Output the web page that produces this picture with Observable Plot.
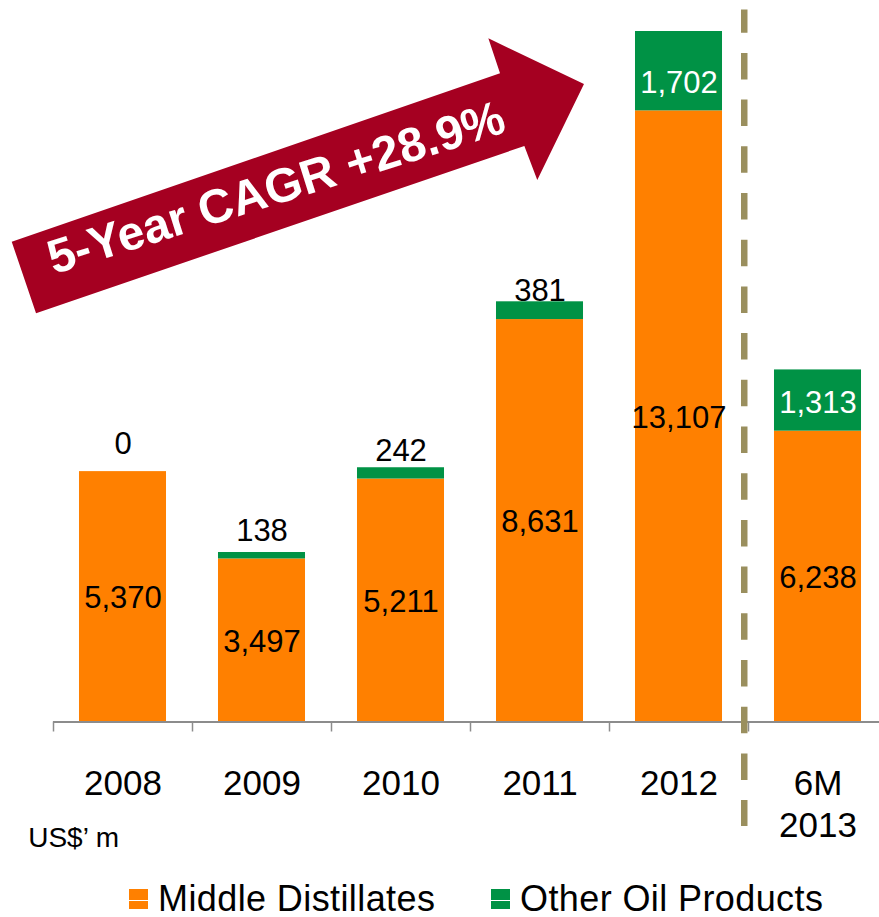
<!DOCTYPE html>
<html><head><meta charset="utf-8">
<script src="https://cdn.jsdelivr.net/npm/d3@7"></script>
<script src="https://cdn.jsdelivr.net/npm/@observablehq/plot@0.6"></script>
<style>
html,body{margin:0;padding:0;background:#fff;overflow:hidden;}
body{width:879px;height:917px;font-family:"Liberation Sans",Arial,sans-serif;}
#chart svg{display:block}
.legend{position:relative;height:57px;margin-top:10px;}
.item{position:absolute;top:0;height:57px;display:flex;align-items:center;font-size:36px;letter-spacing:0.4px;color:#000;white-space:nowrap;}
.sw{width:19px;height:20px;margin-right:10px;flex:none;}
</style></head><body><div id="chart"></div><div class="legend" id="legend"></div>
<script>
// ---- data ----
const categories = ["2008", "2009", "2010", "2011", "2012", "6M 2013"];
const middleDistillates = [5370, 3497, 5211, 8631, 13107, 6238];
const otherOilProducts = [0, 138, 242, 381, 1702, 1313];
const seriesNames = ["Middle Distillates", "Other Oil Products"];
const seriesColors = ["#FF8000", "#009245"];
const unitLabel = "US$\u2019 m";
const arrowText = "5-Year CAGR +28.9%";

// annotation geometry (x in band steps from left of x range, y in value units)
const arrowOutline = [[-0.297, 10290], [3.216, 13902], [3.132, 14653], [3.820, 13673], [3.484, 11614], [3.391, 12343], [-0.122, 8755]];
const arrowLabelAt = [1.64, 11120];
const dividerAt = {u: 4.973, from: 15270, to: -2241};

const rows = [];
categories.forEach((c, i) => {
  rows.push({cat: c, series: seriesNames[0], value: middleDistillates[i]});
  rows.push({cat: c, series: seriesNames[1], value: otherOilProducts[i]});
});
const labelRows = categories.map((c, i) => ({cat: c, middle: middleDistillates[i], other: otherOilProducts[i]}));
const fmt = d3.format(",");

const plot = Plot.plot({
  width: 879, height: 860,
  marginLeft: 53, marginRight: 0, marginTop: 22.1, marginBottom: 138.5,
  style: {fontFamily: "Liberation Sans, Arial, sans-serif", background: "white", overflow: "visible", color: "black"},
  x: {type: "band", domain: categories, range: [53, 887], paddingInner: 0.374, paddingOuter: 0.187, round: false, label: null},
  y: {domain: [0, 15000], axis: null},
  color: {domain: seriesNames, range: seriesColors},
  marks: [
    Plot.barY(rows, {x: "cat", y: "value", fill: "series"}),
    Plot.ruleY([0], {stroke: "#8c8c8c", strokeWidth: 2}),
    Plot.axisX({tickSize: 10, tickFormat: () => "", dx: -69.5, stroke: "#8c8c8c", strokeWidth: 1.5, label: null}),
    Plot.axisX({tickSize: 0, tickPadding: 43.5, fontSize: 35, lineHeight: 1.19, tickFormat: d => d.replace(" ", "\n"), label: null}),
    Plot.text(labelRows, {x: "cat", y: d => d.middle / 2, text: d => fmt(d.middle), fontSize: 31, fill: "black", dy: 1.5}),
    Plot.text(labelRows, {filter: d => d.other <= 1000, x: "cat", y: "middle", text: d => fmt(d.other), fontSize: 31, fill: "black", dy: -28}),
    Plot.text(labelRows, {filter: d => d.other > 1000, x: "cat", y: "middle", text: d => fmt(d.other), fontSize: 31, fill: "white", dy: -28}),
    Plot.text([unitLabel], {frameAnchor: "bottom-left", text: d => d, textAnchor: "start", lineAnchor: "top", dx: -25.3, dy: 105.2, fontSize: 28, fill: "black"})
  ]
});
document.getElementById("chart").appendChild(plot);

// ---- annotations through the plot's scales ----
const sx = plot.scale("x"), sy = plot.scale("y");
const stepPx = sx.step != null ? sx.step : (sx.apply(categories[1]) - sx.apply(categories[0]));
const startPx = sx.range[0];
const X = u => startPx + u * stepPx;
const Y = v => sy.apply(v);
const g = d3.select(plot).append("g");
g.append("line")
  .attr("x1", X(dividerAt.u)).attr("x2", X(dividerAt.u))
  .attr("y1", Y(dividerAt.from)).attr("y2", Y(dividerAt.to))
  .attr("stroke", "#9A8F5E").attr("stroke-width", 6.5)
  .attr("stroke-dasharray", "26.5 20.2").attr("stroke-dashoffset", 3.3);
g.append("path")
  .attr("d", "M" + arrowOutline.map(([u, v]) => `${X(u)},${Y(v)}`).join("L") + "Z")
  .attr("fill", "#A50021");
g.append("text")
  .attr("transform", `translate(${X(arrowLabelAt[0])},${Y(arrowLabelAt[1])}) rotate(-17.5)`)
  .attr("text-anchor", "middle")
  .attr("fill", "white").attr("font-weight", "bold").attr("font-size", 48)
  .attr("font-family", "Liberation Sans, Arial, sans-serif")
  .text(arrowText);

// ---- legend ----
const legend = document.getElementById("legend");
const legendLeft = [129, 491];
seriesNames.forEach((name, i) => {
  const item = document.createElement("div");
  item.className = "item";
  item.style.left = legendLeft[i] + "px";
  const sw = document.createElement("span");
  sw.className = "sw";
  sw.style.background = `linear-gradient(${seriesColors[i]} 0 11px, #fff 11px 12.5px, ${seriesColors[i]} 12.5px 20px)`;
  item.appendChild(sw);
  const t = document.createElement("span");
  t.textContent = name;
  item.appendChild(t);
  legend.appendChild(item);
});
</script>
</body></html>
